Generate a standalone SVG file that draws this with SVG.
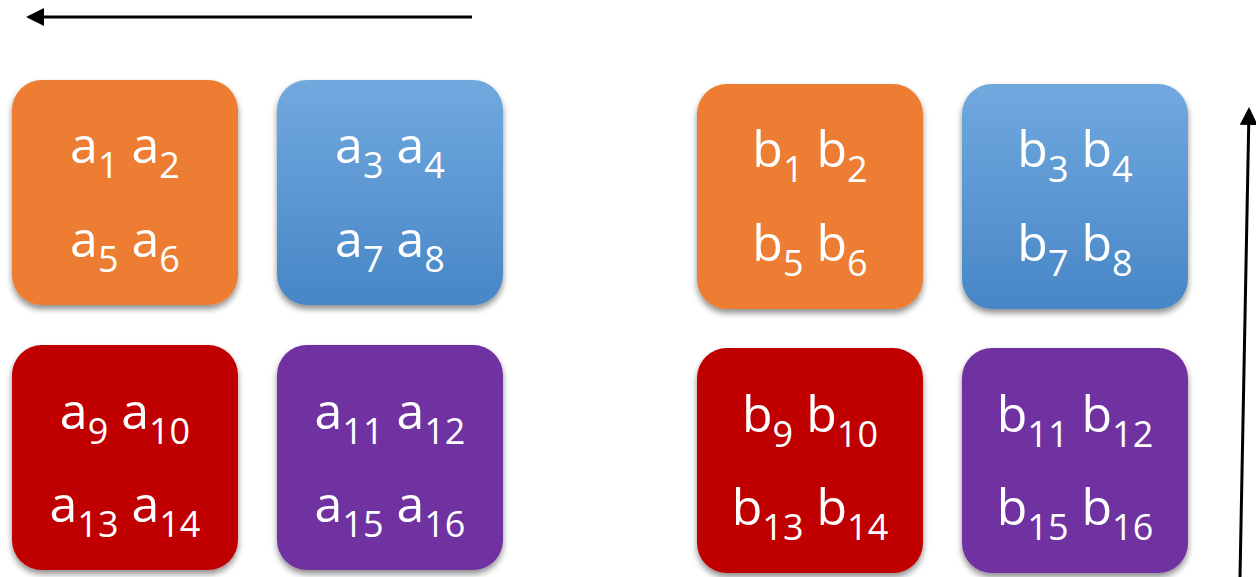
<svg xmlns="http://www.w3.org/2000/svg" width="1256" height="577" viewBox="0 0 1256 577">
<style>
.t{font-family:"Open Sans","Noto Sans",sans-serif;font-size:50px;fill:#fff;text-anchor:middle}
.s{font-size:36px}
.arr{stroke:#000;stroke-width:3;fill:none}
</style>
<defs>
<linearGradient id="gb" x1="0" y1="0" x2="0" y2="1">
<stop offset="0" stop-color="#71A9DF"/>
<stop offset="1" stop-color="#4786C6"/>
</linearGradient>
<filter id="sh" x="-10%" y="-10%" width="120%" height="125%">
<feGaussianBlur in="SourceAlpha" stdDeviation="3"/>
<feOffset dx="0" dy="4" result="b"/>
<feComponentTransfer><feFuncA type="linear" slope="0.45"/></feComponentTransfer>
<feMerge><feMergeNode/><feMergeNode in="SourceGraphic"/></feMerge>
</filter>
<marker id="ah" markerWidth="6" markerHeight="6" refX="5" refY="3" orient="auto" markerUnits="strokeWidth">
<path d="M0,0 L6,3 L0,6 z" fill="#000"/>
</marker>
</defs>
<g id="connectors">
<line class="arr" x1="472" y1="17" x2="29" y2="17" marker-end="url(#ah)"/>
<line class="arr" x1="1240" y1="577" x2="1249" y2="110" marker-end="url(#ah)"/>
</g>
<g id="a-orange">
<rect x="12" y="80" width="226" height="225" rx="30" fill="#ED7D31" filter="url(#sh)"/>
<text class="t" x="125" y="163">a<tspan class="s" dy="15">1</tspan><tspan dy="-15"> a</tspan><tspan class="s" dy="15">2</tspan></text>
<text class="t" x="125" y="257">a<tspan class="s" dy="15">5</tspan><tspan dy="-15"> a</tspan><tspan class="s" dy="15">6</tspan></text>
</g>
<g id="a-blue">
<rect x="277" y="80" width="226" height="225" rx="30" fill="url(#gb)" filter="url(#sh)"/>
<text class="t" x="390" y="163">a<tspan class="s" dy="15">3</tspan><tspan dy="-15"> a</tspan><tspan class="s" dy="15">4</tspan></text>
<text class="t" x="390" y="257">a<tspan class="s" dy="15">7</tspan><tspan dy="-15"> a</tspan><tspan class="s" dy="15">8</tspan></text>
</g>
<g id="a-red">
<rect x="12" y="345" width="226" height="225" rx="30" fill="#C00000" filter="url(#sh)"/>
<text class="t" x="125" y="429">a<tspan class="s" dy="15">9</tspan><tspan dy="-15"> a</tspan><tspan class="s" dy="15">10</tspan></text>
<text class="t" x="125" y="522">a<tspan class="s" dy="15">13</tspan><tspan dy="-15"> a</tspan><tspan class="s" dy="15">14</tspan></text>
</g>
<g id="a-purple">
<rect x="277" y="345" width="226" height="225" rx="30" fill="#7030A0" filter="url(#sh)"/>
<text class="t" x="390" y="429">a<tspan class="s" dy="15">11</tspan><tspan dy="-15"> a</tspan><tspan class="s" dy="15">12</tspan></text>
<text class="t" x="390" y="522">a<tspan class="s" dy="15">15</tspan><tspan dy="-15"> a</tspan><tspan class="s" dy="15">16</tspan></text>
</g>
<g id="b-orange">
<rect x="697" y="84" width="226" height="225" rx="30" fill="#ED7D31" filter="url(#sh)"/>
<text class="t" x="810" y="167">b<tspan class="s" dy="15">1</tspan><tspan dy="-15"> b</tspan><tspan class="s" dy="15">2</tspan></text>
<text class="t" x="810" y="261">b<tspan class="s" dy="15">5</tspan><tspan dy="-15"> b</tspan><tspan class="s" dy="15">6</tspan></text>
</g>
<g id="b-blue">
<rect x="962" y="84" width="226" height="225" rx="30" fill="url(#gb)" filter="url(#sh)"/>
<text class="t" x="1075" y="167">b<tspan class="s" dy="15">3</tspan><tspan dy="-15"> b</tspan><tspan class="s" dy="15">4</tspan></text>
<text class="t" x="1075" y="261">b<tspan class="s" dy="15">7</tspan><tspan dy="-15"> b</tspan><tspan class="s" dy="15">8</tspan></text>
</g>
<g id="b-red">
<rect x="697" y="348" width="226" height="225" rx="30" fill="#C00000" filter="url(#sh)"/>
<text class="t" x="810" y="432">b<tspan class="s" dy="15">9</tspan><tspan dy="-15"> b</tspan><tspan class="s" dy="15">10</tspan></text>
<text class="t" x="810" y="525">b<tspan class="s" dy="15">13</tspan><tspan dy="-15"> b</tspan><tspan class="s" dy="15">14</tspan></text>
</g>
<g id="b-purple">
<rect x="962" y="348" width="226" height="225" rx="30" fill="#7030A0" filter="url(#sh)"/>
<text class="t" x="1075" y="432">b<tspan class="s" dy="15">11</tspan><tspan dy="-15"> b</tspan><tspan class="s" dy="15">12</tspan></text>
<text class="t" x="1075" y="525">b<tspan class="s" dy="15">15</tspan><tspan dy="-15"> b</tspan><tspan class="s" dy="15">16</tspan></text>
</g>
</svg>
